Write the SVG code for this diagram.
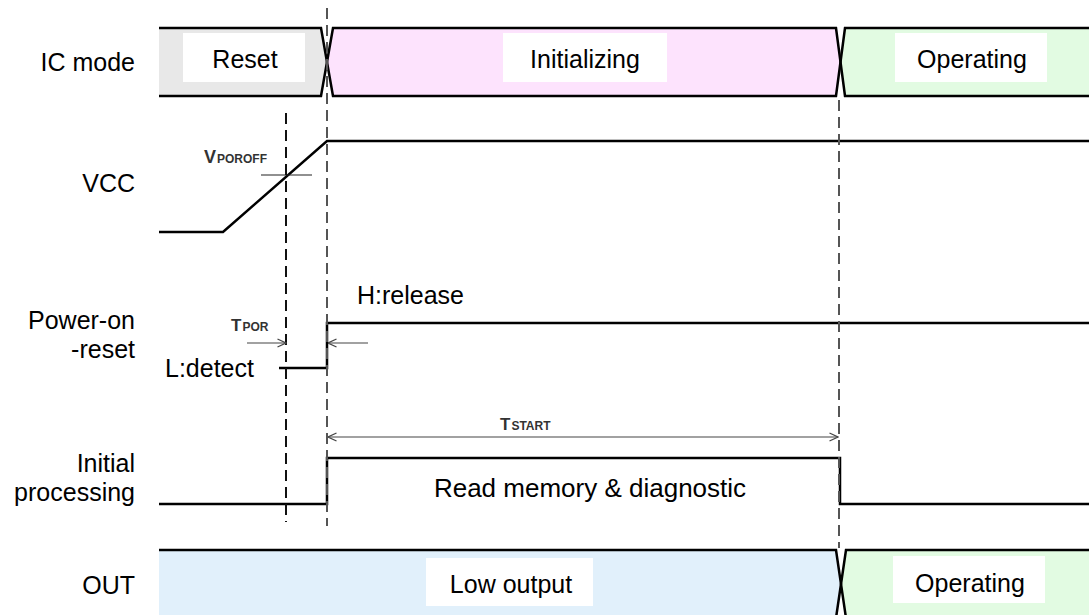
<svg xmlns="http://www.w3.org/2000/svg" width="1089" height="615" viewBox="0 0 1089 615">
  <style>
    .lbl{font-family:"Liberation Sans",Arial,sans-serif;font-size:25px;fill:#000}
    .big{font-size:26px}
    .sig{fill:none;stroke:#000;stroke-width:2.5;stroke-linejoin:miter}
    .dash{fill:none;stroke-width:2;stroke-dasharray:11 6}
    .dim{fill:none;stroke:#444;stroke-width:1.2}
    .tick{fill:none;stroke:#222;stroke-width:1.2}
    .main{font-family:"Liberation Sans",Arial,sans-serif;font-size:17px;font-weight:bold;fill:#333}
    .mainv{font-size:18px}
    .sub{font-family:"Liberation Sans",Arial,sans-serif;font-size:12px;font-weight:bold;fill:#333}
  </style>
  <defs>
    <marker id="arr" viewBox="0 0 10 10" refX="9.5" refY="5" markerWidth="10" markerHeight="10" markerUnits="userSpaceOnUse" orient="auto-start-reverse">
      <path d="M1,1 L9.5,5 L1,9" fill="none" stroke="#444" stroke-width="1.3"/>
    </marker>
  </defs>
  <rect width="1089" height="615" fill="#fff"/>

  <!-- Row labels -->
  <g id="labels">
    <text class="lbl" x="135" y="71" text-anchor="end">IC mode</text>
    <text class="lbl" x="135" y="192" text-anchor="end">VCC</text>
    <text class="lbl" x="135" y="329" text-anchor="end">Power-on</text>
    <text class="lbl" x="135" y="358" text-anchor="end">-reset</text>
    <text class="lbl" x="135" y="472" text-anchor="end">Initial</text>
    <text class="lbl" x="135" y="501" text-anchor="end">processing</text>
    <text class="lbl" x="135" y="594" text-anchor="end">OUT</text>
  </g>

  <!-- IC mode bus -->
  <g id="icmode">
    <polygon points="159,28 321,28 327,62 321,96 159,96" fill="#e8e8e8"/>
    <polygon points="333,28 836,28 840,62 836,96 333,96 327,62" fill="#fde3fd"/>
    <polygon points="845,28 1089,28 1089,96 845,96 840,62" fill="#e2fbe2"/>
    <path class="sig" d="M159,28 H321 L333,96 H836 L845,28 H1089"/>
    <path class="sig" d="M159,96 H321 L333,28 H836 L845,96 H1089"/>
    <rect x="183" y="33" width="122" height="49" fill="#fff"/>
    <text class="lbl" x="245" y="68" text-anchor="middle">Reset</text>
    <rect x="503" y="33" width="164" height="49" fill="#fff"/>
    <text class="lbl" x="585" y="68" text-anchor="middle">Initializing</text>
    <rect x="895" y="33" width="152" height="49" fill="#fff"/>
    <text class="lbl" x="972" y="68" text-anchor="middle">Operating</text>
  </g>

  <!-- OUT bus -->
  <g id="out">
    <polygon points="159,550 836,550 841,584 836,618 159,618" fill="#e1f0fb"/>
    <polygon points="846,550 1089,550 1089,618 846,618 841,584" fill="#e2fbe2"/>
    <path class="sig" d="M159,550 H836 L846,618"/>
    <path class="sig" d="M836,618 L846,550 H1089"/>
    <rect x="426" y="558" width="167" height="48" fill="#fff"/>
    <text class="lbl" x="511" y="593" text-anchor="middle">Low output</text>
    <rect x="893" y="556" width="152" height="47" fill="#fff"/>
    <text class="lbl" x="970" y="592" text-anchor="middle">Operating</text>
  </g>

  <!-- VCC -->
  <g id="vcc">
    <path class="sig" d="M159,232 H223 L327,141 H1089"/>
    <line class="tick" x1="261" y1="175" x2="312" y2="175"/>
    <text x="204" y="163"><tspan class="main mainv">V</tspan><tspan class="sub" dx="1">POROFF</tspan></text>
  </g>

  <!-- Power-on-reset -->
  <g id="por">
    <path class="sig" d="M279,368 H327 V323 H1089"/>
    <text class="lbl" x="357" y="304">H:release</text>
    <text class="lbl" x="165" y="377">L:detect</text>
    <text x="231" y="331"><tspan class="main">T</tspan><tspan class="sub" dx="1">POR</tspan></text>
  </g>

  <!-- Initial processing -->
  <g id="initproc">
    <path class="sig" d="M159,504 H327 V458 H840 V504 H1089"/>
    <text class="lbl big" x="590" y="497" text-anchor="middle">Read memory &amp; diagnostic</text>
    <text x="500" y="430"><tspan class="main">T</tspan><tspan class="sub" dx="1">START</tspan></text>
  </g>

  <!-- connectors: dashed guides and dimension arrows -->
  <g id="connectors">
    <line class="dash" stroke="#111" x1="286" y1="113" x2="286" y2="522"/>
    <line class="dash" stroke="#555" x1="327" y1="8" x2="327" y2="526"/>
    <line class="dash" stroke="#555" x1="839" y1="100" x2="839" y2="548"/>
    <line class="dim" x1="247" y1="343" x2="286" y2="343" marker-end="url(#arr)"/>
    <line class="dim" x1="368" y1="343" x2="328" y2="343" marker-end="url(#arr)"/>
    <line class="dim" x1="328" y1="437" x2="838" y2="437" marker-start="url(#arr)" marker-end="url(#arr)"/>
  </g>
</svg>
